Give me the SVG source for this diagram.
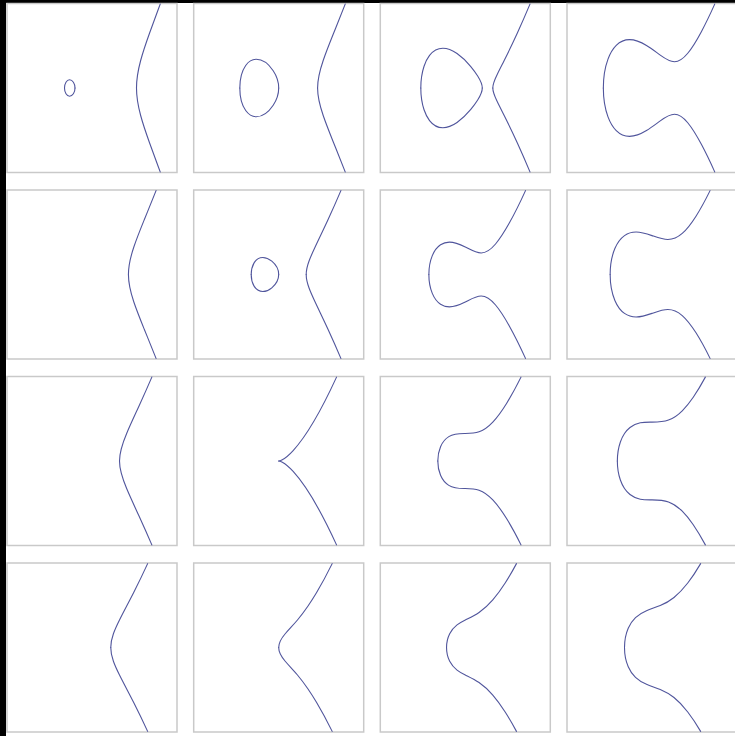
<svg xmlns="http://www.w3.org/2000/svg" xmlns:xlink="http://www.w3.org/1999/xlink" width="735" height="736" viewBox="0 0 735 736">
<style>
.frm{fill:#fff;stroke:#c9c9c9;stroke-width:1.5}
.crv{fill:none;stroke:#50559c;stroke-width:1.1;stroke-linecap:round;stroke-linejoin:round;vector-effect:non-scaling-stroke}
</style>
<defs>
<path id="c11a" class="crv" d="M-1,0 C-1,0.1644 -0.9178,0.2978 -0.8165,0.2978 C-0.7069,0.2978 -0.618,0.1644 -0.618,0"/>
<path id="c11b" class="crv" d="M1.618,0 C1.618,0.3333 1.6791,0.6667 1.7693,1 C1.8595,1.3333 1.9751,1.6667 2.0946,2 C2.22,2.35 2.3509,2.7 2.4806,3.05"/>
<path id="c12a" class="crv" d="M-1.4142,0 C-1.4142,0.2733 -1.3931,0.5465 -1.2,0.8198 C-1.0722,1.0007 -0.9443,1.0435 -0.8165,1.0435 C-0.611,1.0435 -0.4055,0.9346 -0.2,0.6261 C-0.061,0.4174 0,0.2087 0,0"/>
<path id="c12b" class="crv" d="M1.4142,0 C1.4142,0.3333 1.5041,0.6667 1.618,1 C1.7319,1.3333 1.8667,1.6667 2,2 C2.14,2.35 2.2807,2.7 2.4181,3.05"/>
<path id="c13a" class="crv" d="M-1.618,0 C-1.618,0.2635 -1.5877,0.5271 -1.5,0.7906 C-1.4333,0.9909 -1.3667,1.0981 -1.3,1.1845 C-1.1388,1.3934 -0.9777,1.4452 -0.8165,1.4452 C-0.6443,1.4452 -0.4722,1.373 -0.3,1.2542 C-0.1333,1.1392 0.0333,0.9807 0.2,0.7797 C0.2833,0.6793 0.3667,0.5699 0.45,0.4372 C0.5415,0.2915 0.618,0.1457 0.618,0"/>
<path id="c13b" class="crv" d="M1,0 C1,0.1667 1.0838,0.3333 1.1644,0.5 C1.245,0.6667 1.3309,0.8333 1.4142,1 C1.5809,1.3333 1.741,1.6667 1.8933,2 C2.0532,2.35 2.2054,2.7 2.3517,3.05"/>
<path id="c14" class="crv" d="M-1.7693,0 C-1.7693,0.3502 -1.7296,0.7005 -1.6,1.0507 C-1.5,1.321 -1.4,1.4512 -1.3,1.5502 C-1.1388,1.7098 -0.9777,1.7575 -0.8165,1.7575 C-0.611,1.7575 -0.4055,1.6715 -0.2,1.5466 C-0.0333,1.4453 0.1333,1.3153 0.3,1.1946 C0.4722,1.0699 0.6443,0.9546 0.8165,0.9546 C0.9777,0.9546 1.1388,1.0679 1.3,1.2637 C1.4667,1.4662 1.6333,1.7445 1.8,2.0572 C1.9603,2.358 2.1205,2.6925 2.2808,3.05"/>
<path id="c21" class="crv" d="M1.3247,0 C1.3247,0.3333 1.4092,0.6667 1.5214,1 C1.6336,1.3333 1.7692,1.6667 1.9042,2 C2.046,2.35 2.1891,2.7 2.3289,3.05"/>
<path id="c22a" class="crv" d="M-1,0 C-1,0.1378 -0.9797,0.2757 -0.9,0.4135 C-0.7925,0.5994 -0.6849,0.6204 -0.5774,0.6204 C-0.4683,0.6204 -0.3591,0.5757 -0.25,0.4841 C-0.0577,0.3227 0,0.1614 0,0"/>
<path id="c22b" class="crv" d="M1,0 C1,0.1667 1.0448,0.3333 1.1071,0.5 C1.1694,0.6667 1.2465,0.8333 1.3247,1 C1.481,1.3333 1.6427,1.6667 1.7963,2 C1.9576,2.35 2.1125,2.7 2.2614,3.05"/>
<path id="c23" class="crv" d="M-1.3247,0 C-1.3247,0.229 -1.2948,0.458 -1.2,0.687 C-1.1,0.9286 -1,1.016 -0.9,1.0821 C-0.7925,1.1531 -0.6849,1.1768 -0.5774,1.1768 C-0.3849,1.1768 -0.1925,1.0963 0,1 C0.1925,0.9037 0.3849,0.7843 0.5774,0.7843 C0.7516,0.7843 0.9258,0.903 1.1,1.1095 C1.2667,1.307 1.4333,1.5721 1.6,1.8698 C1.7964,2.2206 1.9928,2.6193 2.1892,3.05"/>
<path id="c24" class="crv" d="M-1.5214,0 C-1.5214,0.3144 -1.4827,0.6288 -1.35,0.9432 C-1.2333,1.2195 -1.1167,1.3317 -1,1.4142 C-0.8591,1.5138 -0.7183,1.5443 -0.5774,1.5443 C-0.3849,1.5443 -0.1925,1.4823 0,1.4142 C0.1925,1.3461 0.3849,1.2709 0.5774,1.2709 C0.7516,1.2709 0.9258,1.3403 1.1,1.4937 C1.2667,1.6404 1.4333,1.8579 1.6,2.1204 C1.7705,2.389 1.941,2.7041 2.1115,3.05"/>
<path id="c31" class="crv" d="M1,0 C1,0.3333 1.12,0.6667 1.26,1 C1.4,1.3333 1.558,1.6667 1.71,2 C1.8696,2.35 2.0257,2.7 2.176,3.05"/>
<path id="c32" class="crv" d="M0,0 C0,0 0.701,0 2.1031,3.05"/>
<path id="c33" class="crv" d="M-1,0 C-1,0.1735 -0.9744,0.3471 -0.9,0.5206 C-0.8,0.754 -0.7,0.8244 -0.6,0.8854 C-0.4,1.0074 -0.2,1 0,1 C0.1667,1 0.3333,1.0018 0.5,1.0607 C0.6667,1.1196 0.8333,1.2374 1,1.4142 C1.1667,1.591 1.3333,1.8228 1.5,2.0917 C1.675,2.3741 1.8499,2.6971 2.0249,3.05"/>
<path id="c34" class="crv" d="M-1.26,0 C-1.26,0.2307 -1.2305,0.4615 -1.15,0.6922 C-1.1,0.8355 -1.05,0.925 -1,1 C-0.9333,1.1 -0.8667,1.1673 -0.8,1.2198 C-0.5333,1.4297 -0.2667,1.4142 0,1.4142 C0.2,1.4142 0.4,1.416 0.6,1.4886 C0.7667,1.5491 0.9333,1.6593 1.1,1.8251 C1.2333,1.9577 1.3667,2.1243 1.5,2.3184 C1.6467,2.5319 1.7934,2.7784 1.9401,3.05"/>
<path id="c41" class="crv" d="M0.6823,0 C0.6823,0.1667 0.7192,0.3333 0.7784,0.5 C0.8376,0.6667 0.9167,0.8333 1,1 C1.1667,1.3333 1.3471,1.6667 1.516,2 C1.6933,2.35 1.8622,2.7 2.023,3.05"/>
<path id="c42" class="crv" d="M0,0 C0,0.1667 0.0941,0.3333 0.2368,0.5 C0.3795,0.6667 0.5432,0.8333 0.6823,1 C0.8214,1.1667 0.9454,1.3333 1.0598,1.5 C1.1742,1.6667 1.2793,1.8333 1.3788,2 C1.5876,2.35 1.7721,2.7 1.945,3.05"/>
<path id="c43" class="crv" d="M-0.6823,0 C-0.6823,0.1667 -0.6521,0.3333 -0.5673,0.5 C-0.4782,0.6751 -0.3891,0.7514 -0.3,0.8204 C-0.2,0.8978 -0.1,0.95 0,1 C0.1667,1.0833 0.3333,1.1604 0.5,1.2748 C0.6667,1.3892 0.8333,1.5396 1,1.7321 C1.15,1.9053 1.3,2.1112 1.45,2.3449 C1.5869,2.5582 1.7238,2.7945 1.8607,3.05"/>
<path id="c44" class="crv" d="M-1,0 C-1,0.2333 -0.9651,0.4667 -0.8643,0.7 C-0.7762,0.9039 -0.6881,1.0039 -0.6,1.0881 C-0.4667,1.2155 -0.3333,1.2829 -0.2,1.3387 C-0.0333,1.4084 0.1333,1.4561 0.3,1.5255 C0.4667,1.5949 0.6333,1.6862 0.8,1.8199 C0.9667,1.9536 1.1333,2.1288 1.3,2.3446 C1.4563,2.5469 1.6125,2.7839 1.7688,3.05"/>
</defs>
<rect x="0" y="0" width="735" height="736" fill="#fff"/>
<rect x="0" y="0" width="735" height="3" fill="#000"/>
<rect x="0" y="0" width="6" height="736" fill="#000"/>

<g id="r1c1"><rect class="frm" x="7" y="3.5" width="170" height="169"/>
<g transform="translate(92,88) scale(27.5,-27.5)"><use href="#c11a"/><use href="#c11a" transform="scale(1,-1)"/><use href="#c11b"/><use href="#c11b" transform="scale(1,-1)"/></g></g>
<g id="r1c2"><rect class="frm" x="193.7" y="3.5" width="170" height="169"/>
<g transform="translate(278.7,88) scale(27.5,-27.5)"><use href="#c12a"/><use href="#c12a" transform="scale(1,-1)"/><use href="#c12b"/><use href="#c12b" transform="scale(1,-1)"/></g></g>
<g id="r1c3"><rect class="frm" x="380.3" y="3.5" width="170" height="169"/>
<g transform="translate(465.3,88) scale(27.5,-27.5)"><use href="#c13a"/><use href="#c13a" transform="scale(1,-1)"/><use href="#c13b"/><use href="#c13b" transform="scale(1,-1)"/></g></g>
<g id="r1c4"><rect class="frm" x="567" y="3.5" width="170" height="169"/>
<g transform="translate(652,88) scale(27.5,-27.5)"><use href="#c14"/><use href="#c14" transform="scale(1,-1)"/></g></g>

<g id="r2c1"><rect class="frm" x="7" y="190" width="170" height="169"/>
<g transform="translate(92,274.5) scale(27.5,-27.5)"><use href="#c21"/><use href="#c21" transform="scale(1,-1)"/></g></g>
<g id="r2c2"><rect class="frm" x="193.7" y="190" width="170" height="169"/>
<g transform="translate(278.7,274.5) scale(27.5,-27.5)"><use href="#c22a"/><use href="#c22a" transform="scale(1,-1)"/><use href="#c22b"/><use href="#c22b" transform="scale(1,-1)"/></g></g>
<g id="r2c3"><rect class="frm" x="380.3" y="190" width="170" height="169"/>
<g transform="translate(465.3,274.5) scale(27.5,-27.5)"><use href="#c23"/><use href="#c23" transform="scale(1,-1)"/></g></g>
<g id="r2c4"><rect class="frm" x="567" y="190" width="170" height="169"/>
<g transform="translate(652,274.5) scale(27.5,-27.5)"><use href="#c24"/><use href="#c24" transform="scale(1,-1)"/></g></g>

<g id="r3c1"><rect class="frm" x="7" y="376.5" width="170" height="169"/>
<g transform="translate(92,461) scale(27.5,-27.5)"><use href="#c31"/><use href="#c31" transform="scale(1,-1)"/></g></g>
<g id="r3c2"><rect class="frm" x="193.7" y="376.5" width="170" height="169"/>
<g transform="translate(278.7,461) scale(27.5,-27.5)"><use href="#c32"/><use href="#c32" transform="scale(1,-1)"/></g></g>
<g id="r3c3"><rect class="frm" x="380.3" y="376.5" width="170" height="169"/>
<g transform="translate(465.3,461) scale(27.5,-27.5)"><use href="#c33"/><use href="#c33" transform="scale(1,-1)"/></g></g>
<g id="r3c4"><rect class="frm" x="567" y="376.5" width="170" height="169"/>
<g transform="translate(652,461) scale(27.5,-27.5)"><use href="#c34"/><use href="#c34" transform="scale(1,-1)"/></g></g>

<g id="r4c1"><rect class="frm" x="7" y="563" width="170" height="169"/>
<g transform="translate(92,647.5) scale(27.5,-27.5)"><use href="#c41"/><use href="#c41" transform="scale(1,-1)"/></g></g>
<g id="r4c2"><rect class="frm" x="193.7" y="563" width="170" height="169"/>
<g transform="translate(278.7,647.5) scale(27.5,-27.5)"><use href="#c42"/><use href="#c42" transform="scale(1,-1)"/></g></g>
<g id="r4c3"><rect class="frm" x="380.3" y="563" width="170" height="169"/>
<g transform="translate(465.3,647.5) scale(27.5,-27.5)"><use href="#c43"/><use href="#c43" transform="scale(1,-1)"/></g></g>
<g id="r4c4"><rect class="frm" x="567" y="563" width="170" height="169"/>
<g transform="translate(652,647.5) scale(27.5,-27.5)"><use href="#c44"/><use href="#c44" transform="scale(1,-1)"/></g></g>
</svg>
